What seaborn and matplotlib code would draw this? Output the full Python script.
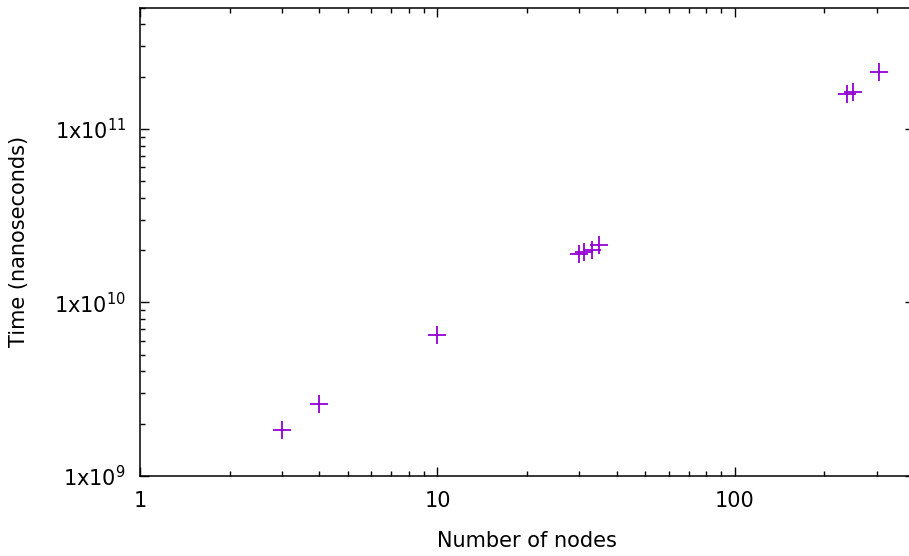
import math
import matplotlib
matplotlib.use("Agg")
import matplotlib.pyplot as plt
import matplotlib.ticker as mticker
import seaborn as sns
import pandas as pd

nodes = [3, 4, 10, 30, 31, 33, 35, 239, 249, 305]
time_ns = [1.85e9, 2.6e9, 6.45e9, 1.89e10, 1.94e10, 2.0e10, 2.14e10, 1.58e11, 1.64e11, 2.13e11]

df = pd.DataFrame({"nodes": nodes, "time": time_ns})

sns.set_theme(style="white")
plt.rcParams['font.family'] = ['DejaVu Sans']
plt.rcParams['mathtext.fontset'] = 'dejavusans'
plt.rcParams['text.color'] = 'black'
plt.rcParams['axes.labelcolor'] = 'black'

fig = plt.figure(figsize=(9.09, 5.56), dpi=100)
ax = fig.add_axes([140/909, (556-476)/556, (914-140)/909, (476-7.5)/556])

sns.scatterplot(data=df, x="nodes", y="time", marker="+", s=160, color="#9400D3",
                linewidth=1.3, ax=ax, legend=False)

ax.set_xscale("log")
ax.set_yscale("log")
ax.set_xlim(1, 400)
ax.set_ylim(1e9, 5e11)

ax.xaxis.set_major_locator(mticker.FixedLocator([1, 10, 100]))
ax.xaxis.set_major_formatter(mticker.FuncFormatter(lambda v, p: f"{int(round(v))}"))
ax.xaxis.set_minor_locator(mticker.LogLocator(base=10, subs=range(2, 10), numticks=20))
ax.xaxis.set_minor_formatter(mticker.NullFormatter())

ax.yaxis.set_major_locator(mticker.FixedLocator([1e9, 1e10, 1e11]))
ax.yaxis.set_major_formatter(mticker.FuncFormatter(
    lambda v, p: r"1x10$^{%d}$" % int(round(math.log10(v)))))
ax.yaxis.set_minor_locator(mticker.LogLocator(base=10, subs=range(2, 10), numticks=20))
ax.yaxis.set_minor_formatter(mticker.NullFormatter())

for s in ax.spines.values():
    s.set_visible(True)
    s.set_color("black")
    s.set_linewidth(1.1)

ax.tick_params(which="both", direction="in", top=True, right=True, bottom=True, left=True,
               colors="black", labelcolor="black", labelsize=15)
ax.tick_params(which="major", length=6.5, width=1.0)
ax.tick_params(which="minor", length=3.5, width=1.0)
ax.tick_params(axis="x", which="major", pad=11)
ax.tick_params(axis="y", which="major", pad=10)

ax.set_xlabel("Number of nodes", fontsize=15, labelpad=14, color="black")
ax.set_ylabel("Time (nanoseconds)", fontsize=15, labelpad=18, color="black")
ax.grid(False)

fig.savefig("out.png", dpi=100)
